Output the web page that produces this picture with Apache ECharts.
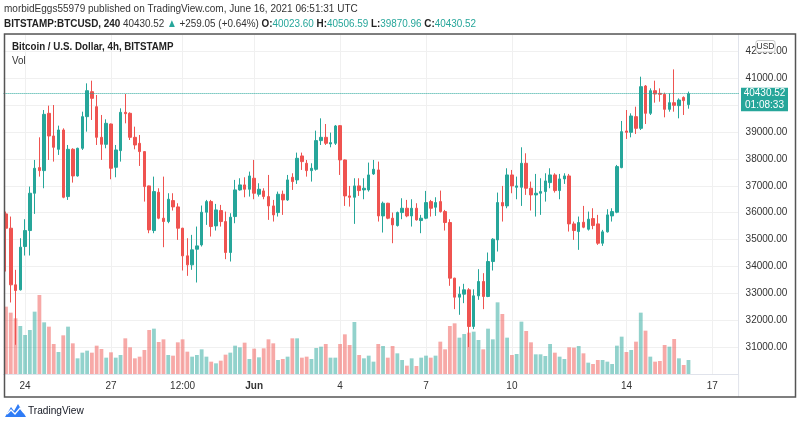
<!DOCTYPE html>
<html><head><meta charset="utf-8">
<script src="https://cdn.jsdelivr.net/npm/echarts@6/dist/echarts.min.js"></script>
<style>html,body{margin:0;padding:0;background:#fff}#c{width:800px;height:426px}</style>
</head><body><div id="c"></div>
<script>
// ---------- DATA ----------
const firstCandleUTC = [2021, 4, 23, 8];   // 23 May 2021 08:00 UTC, 4h candles
const futureSlots = 10;                     // empty slots to the right of the last candle

const openP = [35957,35424,33318,33132,34743,35337,36725,37679,37567,39699,38856,38360,39079,36601,38360,37369,38398,39575,40504,39946,
38806,38546,39302,37691,38311,39736,39700,38806,38583,38274,36998,35337,36762,35796,35672,36452,36217,35424,34396,34061,
34643,34804,36019,36415,35511,36081,35672,34520,35858,36849,37035,36874,37283,36688,36812,36601,36254,36006,36688,36477,
37320,37221,38113,37840,37567,37617,38683,38806,38559,38583,39240,37964,36626,36576,36998,36849,36849,37444,37592,35882,
36353,35796,35523,36006,36167,35882,36167,35709,35796,36415,36205,36415,36043,35635,33566,32859,32971,33132,31769,32909,
33442,32884,34185,34990,36378,36254,37406,36948,36948,37840,36911,36663,36725,36787,37121,37406,36824,37258,37369,35585,
35300,35647,35387,35783,35585,34866,35288,35882,36019,37679,39042,38992,39575,39141,40715,39699,40541,40442,40405,39847,
40095,39984,40290,40023.60];
const closeP = [35424,33318,33107,34718,35337,36725,37654,37567,39661,38856,38435,39079,36576,38360,37369,38398,39575,40541,40256,38806,
38546,39327,37654,38336,39736,39686,38806,38521,38274,36973,35362,36787,35796,35672,36502,36217,35424,34396,34061,34619,
34767,36019,36415,35486,36105,35672,34520,35833,36849,37035,36874,37369,36725,36874,36601,36254,35920,36688,36477,37221,
37159,38026,37902,37567,37654,38683,38806,38583,38608,39228,37964,36626,36576,36998,36824,36911,37406,37617,35882,36353,
35796,35548,36006,36167,35882,36167,35734,35796,36378,36167,36378,36043,35635,33566,32859,32971,33132,31769,32909,33442,
32884,34185,35015,36378,36254,37406,36998,36998,37840,36911,36663,36725,36787,37183,37406,36824,37258,37369,35585,35337,
35635,35461,35759,35523,34866,35288,35920,36043,37716,39017,38992,39600,39141,40690,39699,40541,40417,40405,39847,40095,
39996,40194,40171.47,40430.52];
const lowP = [33813,32661,31087,33107,34408,34408,35957,37344,36911,37964,37902,38150,36539,36477,37121,37344,38336,39017,39451,38521,
37964,38398,37245,37320,37902,39327,38707,38360,37741,36415,35238,35238,35759,34718,35610,36081,34990,33850,33652,33875,
33404,34743,35548,35114,35337,35486,34272,34185,35610,36824,36576,36601,36502,36601,36502,35734,35672,35858,35920,36440,
36849,37072,37592,37344,37159,37567,38521,38521,38435,38521,37406,36254,36229,35585,36626,36502,36787,37406,35672,35263,
35759,34866,35486,35759,35833,35486,35709,35238,35759,35858,35882,36006,35337,33281,32413,32203,32636,31001,31670,32760,
32413,32859,33850,34557,35672,36167,36725,36502,36254,36663,36081,35858,35920,36415,36911,36750,36502,37072,35300,34990,
34619,35424,35337,35387,34804,34767,35263,35672,35982,37654,38745,38806,38930,39079,39302,39637,40095,40132,39550,39760,
39760,39513,39637,39870.96];
const highP = [36043,35858,33875,35052,35759,36973,37964,38806,39822,39984,40008,39240,39141,38521,38400,38420,39760,40814,40913,40380,
39637,39476,39320,38521,39884,40417,39736,39203,38893,38290,37010,37344,36911,37344,36725,36725,36353,35440,35052,35176,
35486,36267,36477,36477,36328,36291,36043,35982,37221,37283,37320,37530,37964,37097,36911,37406,36477,36787,36824,37406,
37468,38237,38237,37964,37840,39054,39513,39302,38980,39265,39260,37980,36998,37283,37283,37283,37865,37964,37902,36415,
36370,36006,36043,36539,36477,36502,36353,35920,36812,36477,36576,36824,36105,35759,33580,33256,33355,33194,33150,33900,
33751,34520,35052,36750,36998,37654,37592,37344,38435,38212,37159,37444,37283,37468,37654,37468,37444,37468,37444,35672,
35858,36254,36043,36167,35920,35362,36130,36167,37778,39414,39822,39699,39946,41062,40752,40628,40913,40628,40467,40442,
41334,40256,40330,40506.59];
const volume = [202,184,167,144,117,132,187,237,155,142,90,66,116,142,92,47,64,70,64,85,
75,49,65,49,57,107,80,47,52,72,132,136,96,104,57,55,95,104,67,52,
57,74,52,37,32,40,58,64,85,80,94,45,76,50,77,104,92,42,45,52,
107,107,49,52,45,78,82,90,49,49,90,119,87,156,57,47,55,37,90,84,
49,84,62,42,25,47,24,49,55,49,55,97,74,144,152,109,120,124,127,102,
74,136,104,215,180,109,57,60,157,129,95,59,59,54,90,64,52,45,80,79,
84,62,34,30,42,42,37,30,85,112,66,72,97,184,130,52,37,39,87,82,
105,47,27,42];

const priceMin = 30000, priceMax = 42650, priceStep = 1000;
const volumeAxisMax = 1020;
const dateTickLabels = {
  '2021-05-24 00:00': '24', '2021-05-27 00:00': '27', '2021-05-29 12:00': '12:00',
  '2021-06-01 00:00': 'Jun', '2021-06-04 00:00': '4', '2021-06-07 00:00': '7',
  '2021-06-10 00:00': '10', '2021-06-14 00:00': '14', '2021-06-17 00:00': '17'
};
const monthLabels = ['Jun'];
const lastPrice = 40430.52, countdown = '01:08:33';
const headerLine1 = 'morbidEggs55979 published on TradingView.com, June 16, 2021 06:51:31 UTC';
const symbolText = 'BITSTAMP:BTCUSD, 240';
const changeText = '+259.05 (+0.64%)';
const ohlcLast = {O: '40023.60', H: '40506.59', L: '39870.96', C: '40430.52'};
const chartTitle = 'Bitcoin / U.S. Dollar, 4h, BITSTAMP';

// ---------- BUILD ----------
const UP = '#26a69a', DOWN = '#ef5350';
const UPV = 'rgba(38,166,154,0.5)', DOWNV = 'rgba(239,83,80,0.5)';
const pad = n => String(n).padStart(2, '0');
const t0 = Date.UTC.apply(null, firstCandleUTC);
const categories = [];
for (let i = 0; i < openP.length + futureSlots; i++) {
  const d = new Date(t0 + i * 4 * 3600 * 1000);
  categories.push(d.getUTCFullYear() + '-' + pad(d.getUTCMonth() + 1) + '-' + pad(d.getUTCDate()) + ' ' + pad(d.getUTCHours()) + ':' + pad(d.getUTCMinutes()));
}
const candles = openP.map((o, i) => [o, closeP[i], lowP[i], highP[i]]);
const volData = volume.map((v, i) => ({value: v, itemStyle: {color: closeP[i] >= openP[i] ? UPV : DOWNV}}));

const FONT = 'Liberation Sans';
const isTick = (idx, val) => dateTickLabels[val] !== undefined;

const chart = echarts.init(document.getElementById('c'), null, {renderer: 'canvas'});
const option = {
  animation: false,
  backgroundColor: '#ffffff',
  textStyle: {fontFamily: FONT},
  grid: {left: 3.6, top: 34, width: 735, height: 340, containLabel: false},
  xAxis: {
    type: 'category', data: categories, boundaryGap: true,
    axisLine: {show: true, lineStyle: {color: '#e0e3eb', width: 1}},
    axisTick: {show: false},
    axisLabel: {
      interval: isTick, margin: 7, fontSize: 10, color: '#333', fontFamily: FONT,
      formatter: v => monthLabels.includes(dateTickLabels[v]) ? '{b|' + dateTickLabels[v] + '}' : (dateTickLabels[v] || ''),
      rich: {b: {fontWeight: 'bold', fontSize: 10, color: '#333', fontFamily: FONT}}
    },
    splitLine: {show: true, interval: isTick, alignWithLabel: true, lineStyle: {color: '#f0f0f0', width: 1}}
  },
  yAxis: [{
    type: 'value', position: 'right', min: priceMin, max: priceMax, interval: priceStep, scale: true,
    axisLine: {show: true, lineStyle: {color: '#e0e3eb'}},
    axisTick: {show: false},
    axisLabel: {margin: 7, fontSize: 10, color: '#333', fontFamily: FONT,
      formatter: v => (v % priceStep === 0 && v > priceMin) ? v.toFixed(2) : ''},
    splitLine: {show: true, lineStyle: {color: '#f0f0f0', width: 1}}
  }, {
    type: 'value', min: 0, max: volumeAxisMax, show: false, splitLine: {show: false}
  }],
  series: [{
    name: 'Vol', type: 'bar', xAxisIndex: 0, yAxisIndex: 1, data: volData,
    barWidth: 3.8, silent: true, z: 1
  }, {
    name: 'BTCUSD', type: 'candlestick', xAxisIndex: 0, yAxisIndex: 0, data: candles,
    barWidth: 3, z: 3,
    itemStyle: {color: UP, color0: DOWN, borderColor: UP, borderColor0: DOWN, borderWidth: 1},
    markLine: {
      silent: true, symbol: ['none', 'none'], label: {show: false},
      lineStyle: {type: 'dotted', color: UP, width: 1},
      data: [{yAxis: lastPrice}]
    }
  }],
  graphic: [
    {type: 'text', x: 4, y: 9, scaleX: 0.87, style: {text: headerLine1, fontSize: 11.5, fontFamily: FONT, fill: '#333', verticalAlign: 'middle'}},
    {type: 'text', x: 4, y: 24, scaleX: 0.86, style: {
      text: '{b|' + symbolText + '} ' + lastPrice.toFixed(2) + ' {g|▲} ' + changeText +
        ' {b|O:}{g|' + ohlcLast.O + '} {b|H:}{g|' + ohlcLast.H + '} {b|L:}{g|' + ohlcLast.L + '} {b|C:}{g|' + ohlcLast.C + '}',
      fontSize: 11.5, fontFamily: FONT, fill: '#333', verticalAlign: 'middle',
      rich: {b: {fontWeight: 'bold', fontSize: 11.5, fontFamily: FONT, fill: '#222'},
             g: {fontSize: 11.5, fontFamily: FONT, fill: UP}}
    }},
    {type: 'text', x: 12, y: 47, scaleX: 0.93, style: {text: chartTitle, fontSize: 10.5, fontWeight: 'bold', fontFamily: FONT, fill: '#222', verticalAlign: 'middle'}},
    {type: 'text', x: 12, y: 61.5, scaleX: 0.93, style: {text: 'Vol', fontSize: 10.5, fontFamily: FONT, fill: '#333', verticalAlign: 'middle'}},
    {type: 'rect', shape: {x: 4.5, y: 34, width: 791, height: 363}, style: {fill: 'none', stroke: '#555', lineWidth: 1.5}, z: 10},
    {type: 'line', shape: {x1: 738.6, y1: 374, x2: 738.6, y2: 397}, style: {stroke: '#e0e3eb', lineWidth: 1}},
    {type: 'rect', shape: {x: 756, y: 40.5, width: 19, height: 11.5, r: 2}, style: {fill: '#fff', stroke: '#c8c8c8', lineWidth: 1}, z: 20},
    {type: 'text', x: 765.5, y: 46.5, style: {text: 'USD', fontSize: 8.5, fontFamily: FONT, fill: '#333', align: 'center', verticalAlign: 'middle'}, z: 21},
    {type: 'polygon', shape: {points: [[5,417],[11,407],[14,411],[18,404],[26,417]]}, style: {fill: '#2f7cf6'}},
    {type: 'polyline', shape: {points: [[7,414],[11,410],[15,414],[20,408],[24,413]]}, style: {stroke: '#ffffff', lineWidth: 1.3, fill: 'none'}},
    {type: 'text', x: 28, y: 411, scaleX: 0.92, style: {text: 'TradingView', fontSize: 11, fontFamily: FONT, fill: '#131722', verticalAlign: 'middle'}}
  ]
};
chart.setOption(option);

// last price label box positioned through the price scale
const py = chart.convertToPixel({yAxisIndex: 0}, lastPrice);
chart.setOption({graphic: option.graphic.concat([
  {type: 'rect', shape: {x: 741, y: py - 6, width: 47, height: 23.5}, style: {fill: UP}, z: 20},
  {type: 'text', x: 764.5, y: py, style: {text: lastPrice.toFixed(2), fontSize: 10, fontFamily: FONT, fill: '#fff', align: 'center', verticalAlign: 'middle'}, z: 21},
  {type: 'text', x: 764.5, y: py + 11.5, style: {text: countdown, fontSize: 10, fontFamily: FONT, fill: '#fff', align: 'center', verticalAlign: 'middle'}, z: 21}
])}, {replaceMerge: ['graphic']});
</script></body></html>
